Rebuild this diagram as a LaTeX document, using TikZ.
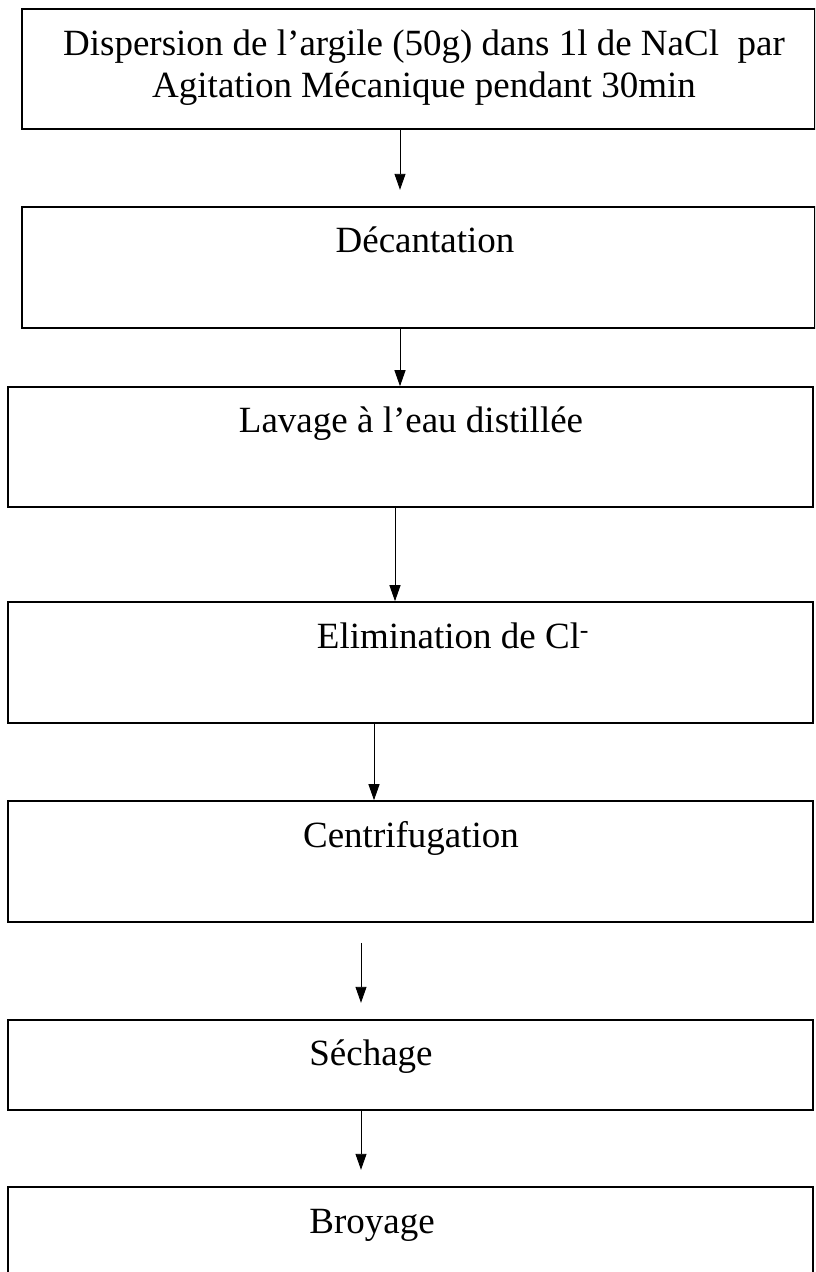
\documentclass[tikz,border=0pt]{standalone}
\usepackage{fontspec}
\setmainfont{Liberation Serif}
\usepackage{tikz}
\usetikzlibrary{positioning}
\usetikzlibrary{arrows.meta}

\begin{document}
\begin{tikzpicture}[x=1pt,y=-1pt,>={Triangle[length=16pt,width=11pt]},
  stepbox/.style={draw,line width=1.6pt,inner sep=0pt,minimum width=#1},
  stepbox/.default=793pt,
  steptext/.style={anchor=base,inner sep=0pt,align=center,font=\fontsize{37}{42}\selectfont},
  flow/.style={->,line width=0.9pt}]

\clip (0,0) rectangle (815,1272);

\node [stepbox,minimum height=120pt] (disp) at (418.5,69) {};
\node [stepbox,minimum height=121pt] (decant) at (418.5,267.5) {};
\node [stepbox=805pt,minimum height=120pt] (lav) at (410.5,447) {};
\node [stepbox=805pt,minimum height=121pt] (elim) at (410.5,662.5) {};
\node [stepbox=805pt,minimum height=121pt] (centri) at (410.5,861.5) {};
\node [stepbox=805pt,minimum height=90pt] (sech) at (410.5,1065) {};
\node [stepbox=805pt,minimum height=113pt] (broy) at (410.5,1243.5) {};

\node [steptext] (dispT) at (424,97) {Dispersion de l’argile (50g) dans 1l de NaCl\ \ par\\Agitation Mécanique pendant 30min};
\node [steptext] (decantT) at (425,252) {Décantation};
\node [steptext] (lavT) at (411,432) {Lavage à l’eau distillée};
\node [steptext] (elimT) at (453,648) {Elimination de Cl\textsuperscript{-}};
\node [steptext] (centriT) at (411,847) {Centrifugation};
\node [steptext] (sechT) at (371,1065) {Séchage};
\node [steptext] (broyT) at (372,1233) {Broyage};

\draw [flow] ([xshift=-18.5pt]disp.south) -- ++(0,60);
\draw [flow] ([xshift=-18.5pt]decant.south) -- ([xshift=-10.5pt]lav.north);
\draw [flow] ([xshift=-15.5pt]lav.south) -- ([xshift=-15.5pt]elim.north);
\draw [flow] ([xshift=-36.5pt]elim.south) -- ([xshift=-36.5pt]centri.north);
\draw [flow] ([xshift=-49.5pt,yshift=-20pt]centri.south) -- ++(0,60);
\draw [flow] ([xshift=-49.5pt]sech.south) -- ++(0,59);

\end{tikzpicture}
\end{document}
